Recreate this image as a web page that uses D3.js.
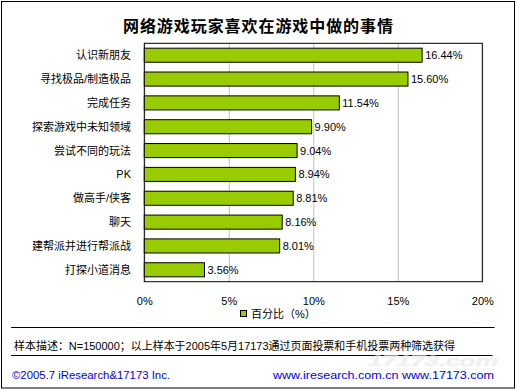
<!DOCTYPE html>
<html><head><meta charset="utf-8">
<script src="https://cdn.jsdelivr.net/npm/d3@7"></script>
<style>
body{margin:0;background:#fff;}
svg{display:block;}
text{font-family:"Liberation Sans","Noto Sans CJK SC",sans-serif;}
</style></head>
<body>
<svg id="chart" width="517" height="390"></svg>
<script>
const titleText = "网络游戏玩家喜欢在游戏中做的事情";
const categories = ["认识新朋友","寻找极品/制造极品","完成任务","探索游戏中未知领域","尝试不同的玩法","PK","做高手/侠客","聊天","建帮派并进行帮派战","打探小道消息"];
const values = [16.44,15.60,11.54,9.90,9.04,8.94,8.81,8.16,8.01,3.56];
const tickValues = [0,5,10,15,20];
const legendLabel = "百分比（%）";
const noteText = "样本描述：N=150000；以上样本于2005年5月17173通过页面投票和手机投票两种筛选获得";
const footerLeft = "©2005.7  iResearch&17173 Inc.";
const footerRight = "www.iresearch.com.cn  www.17173.com";

const svg = d3.select("#chart");
const plot = {left:144.3, right:482.3, top:43.3, bottom:281.7};

// outer border
svg.append("rect").attr("x",1.5).attr("y",1.5).attr("width",513).attr("height",386.5)
  .attr("fill","#fff").attr("stroke","#000").attr("stroke-width",1);

// title
svg.append("text").attr("x",258).attr("y",31.5).attr("text-anchor","middle")
  .attr("font-family","'Noto Sans CJK SC',sans-serif")
  .attr("font-size",16).attr("font-weight","bold")
  .attr("textLength",270).attr("lengthAdjust","spacing")
  .text(titleText);

const x = d3.scaleLinear().domain([0,20]).range([plot.left, plot.right]);
const y = d3.scaleBand().domain(categories).range([plot.top, plot.bottom])
  .paddingInner(0.41).paddingOuter(0.205);

// axis with gridlines
const axis = d3.axisBottom(x).tickValues(tickValues).tickFormat(d=>d+"%")
  .tickSizeInner(-(plot.bottom-plot.top)).tickSizeOuter(0).tickPadding(16);
const ag = svg.append("g").attr("transform",`translate(0,${plot.bottom})`).call(axis);
ag.select(".domain").remove();
ag.selectAll(".tick line").attr("stroke","#c0c0c0").attr("stroke-width",1);
ag.selectAll(".tick text").attr("font-size",11).attr("fill","#000")
  .attr("font-family","'Liberation Sans',sans-serif");

// plot frame
svg.append("rect").attr("x",plot.left).attr("y",plot.top)
  .attr("width",plot.right-plot.left).attr("height",plot.bottom-plot.top)
  .attr("fill","none").attr("stroke","#000").attr("stroke-width",1);

// bars
svg.append("g").selectAll("rect").data(values).join("rect")
  .attr("x",x(0)).attr("y",(d,i)=>y(categories[i]))
  .attr("width",d=>x(d)-x(0)).attr("height",y.bandwidth())
  .attr("fill","#99cc00").attr("stroke","#000").attr("stroke-width",1);

// value labels
svg.append("g").selectAll("text").data(values).join("text")
  .attr("x",d=>x(d)+3).attr("y",(d,i)=>y(categories[i])+y.bandwidth()/2)
  .attr("dominant-baseline","central").attr("font-size",11)
  .text(d=>d.toFixed(2)+"%");

// category labels
svg.append("g").selectAll("text").data(categories).join("text")
  .attr("x",131).attr("y",d=>y(d)+y.bandwidth()/2)
  .attr("dominant-baseline","central").attr("text-anchor","end")
  .attr("font-size",11).text(d=>d);

// legend
svg.append("rect").attr("x",240.5).attr("y",310.5).attr("width",6).attr("height",6)
  .attr("fill","#99cc00").attr("stroke","#000").attr("stroke-width",1);
svg.append("text").attr("x",251).attr("y",313.5).attr("dominant-baseline","central")
  .attr("font-size",11).text(legendLabel);

// separators
svg.append("line").attr("x1",11).attr("x2",494.5).attr("y1",327.5).attr("y2",327.5).attr("stroke","#000");
svg.append("line").attr("x1",11).attr("x2",492.5).attr("y1",355.5).attr("y2",355.5).attr("stroke","#000");

// note
svg.append("text").attr("x",14).attr("y",345.5).attr("dominant-baseline","central")
  .attr("font-size",11).attr("textLength",441).attr("lengthAdjust","spacingAndGlyphs")
  .text(noteText);

// watermark
svg.append("text").attr("x",433).attr("y",366).attr("text-anchor","middle")
  .attr("font-size",15).attr("font-weight","bold").attr("font-style","italic")
  .attr("fill","#ebebeb").attr("stroke","#f4f4f4").attr("stroke-width",1)
  .attr("textLength",130).attr("lengthAdjust","spacingAndGlyphs")
  .text("17173.com");

// footer
svg.append("text").attr("x",12).attr("y",375).attr("dominant-baseline","central")
  .attr("font-size",11).attr("fill","#0000ee")
  .attr("textLength",158).attr("lengthAdjust","spacingAndGlyphs")
  .text(footerLeft);
svg.append("text").attr("x",494).attr("y",375).attr("dominant-baseline","central")
  .attr("text-anchor","end").attr("font-size",11).attr("fill","#0000ee")
  .attr("textLength",221).attr("lengthAdjust","spacingAndGlyphs")
  .text(footerRight);
</script>
</body></html>
